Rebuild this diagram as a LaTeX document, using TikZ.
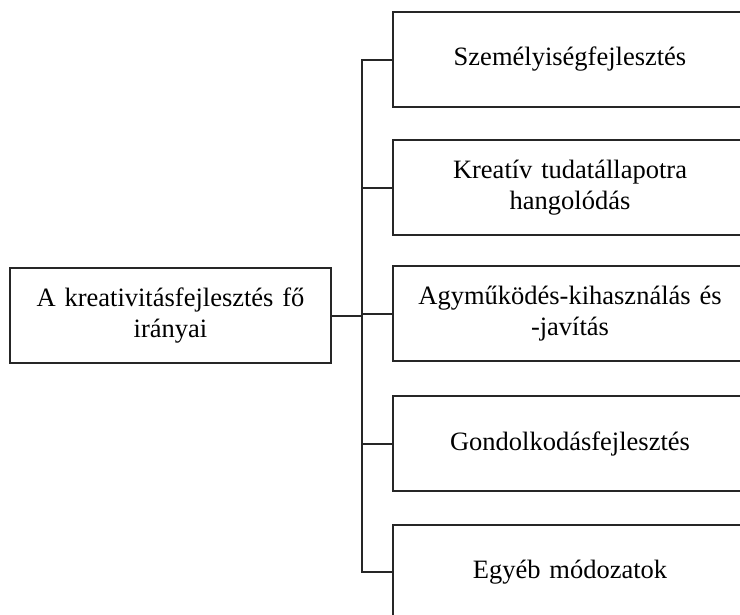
\documentclass[tikz,border=0pt]{standalone}
\usepackage{fontspec}
\setmainfont{Liberation Serif}
\begin{document}
\begin{tikzpicture}[x=1pt,y=-1pt,
  line/.style={line width=2pt,draw=black!85},
  topicbox/.style={line, rectangle, minimum height=95pt, inner sep=3pt,
    align=center, font=\fontsize{26.5}{31}\selectfont},
  mainbox/.style={topicbox, minimum width=321pt, text width=315pt},
  subbox/.style={topicbox, minimum width=354pt, text width=348pt}]
\useasboundingbox (0,0) rectangle (740,614);

% central topic
\node[mainbox] (main) at (170.5,315.5) {A kreativitásfejlesztés fő\\irányai};

% branch topics
\node[subbox] (r1) at (570,59.5)  {Személyiségfejlesztés};
\node[subbox] (r2) at (570,187.5) {Kreatív tudatállapotra\\hangolódás};
\node[subbox] (r3) at (570,313.5) {Agyműködés-kihasználás és\\-javítás};
\node[subbox] (r4) at (570,443.5) {Gondolkodásfejlesztés};
\node[subbox] (r5) at (570,572)   {Egyéb módozatok};

% bus line joining the branches
\coordinate (bt) at (362,59.5);
\coordinate (bb) at (362,572);
\draw[line] (r1.west) -- (bt) -- (bb) -- (r5.west);
\foreach \n in {r2,r3,r4} \draw[line] (\n.west) -- (\n.west -| bt);
\draw[line] (main.east) -- (main.east -| bt);
\end{tikzpicture}
\end{document}
